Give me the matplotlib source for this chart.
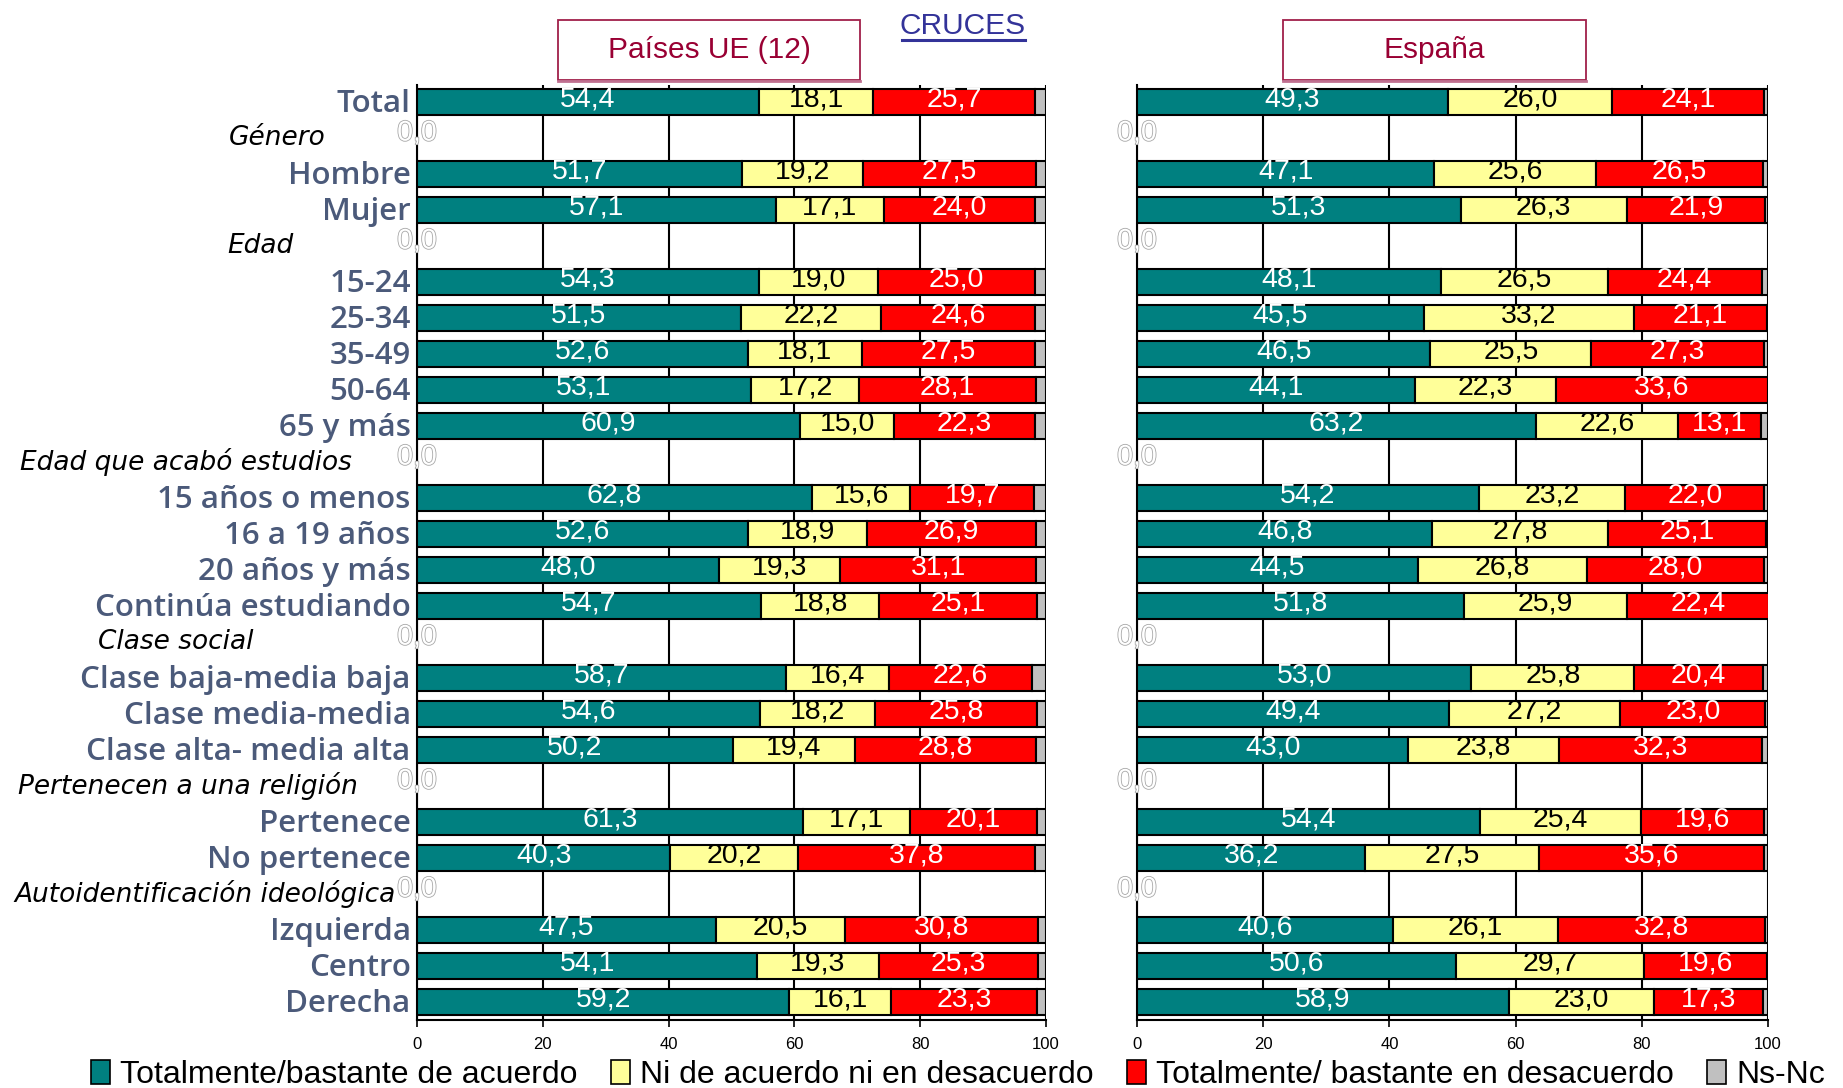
import numpy as np
import matplotlib
matplotlib.use("Agg")
import matplotlib.pyplot as plt
from matplotlib.patches import Patch, Rectangle
from matplotlib.lines import Line2D
import matplotlib.patheffects as pe

# ---------------- data ----------------
rows = ["Total", "Género", "Hombre", "Mujer", "Edad", "15-24", "25-34", "35-49",
        "50-64", "65 y más", "Edad que acabó estudios", "15 años o menos",
        "16 a 19 años", "20 años y más", "Continúa estudiando", "Clase social",
        "Clase baja-media baja", "Clase media-media", "Clase alta- media alta",
        "Pertenecen a una religión", "Pertenece", "No pertenece",
        "Autoidentificación ideológica", "Izquierda", "Centro", "Derecha"]
headers = ["Género", "Edad", "Edad que acabó estudios", "Clase social",
           "Pertenecen a una religión", "Autoidentificación ideológica"]

series_names = ["Totalmente/bastante de acuerdo", "Ni de acuerdo ni en desacuerdo",
                "Totalmente/ bastante en desacuerdo", "Ns-Nc"]

# Países UE (12) -- item rows only (headers excluded), in order
ue_acuerdo = [54.4, 51.7, 57.1, 54.3, 51.5, 52.6, 53.1, 60.9, 62.8, 52.6, 48.0, 54.7,
              58.7, 54.6, 50.2, 61.3, 40.3, 47.5, 54.1, 59.2]
ue_ni = [18.1, 19.2, 17.1, 19.0, 22.2, 18.1, 17.2, 15.0, 15.6, 18.9, 19.3, 18.8,
         16.4, 18.2, 19.4, 17.1, 20.2, 20.5, 19.3, 16.1]
ue_desacuerdo = [25.7, 27.5, 24.0, 25.0, 24.6, 27.5, 28.1, 22.3, 19.7, 26.9, 31.1, 25.1,
                 22.6, 25.8, 28.8, 20.1, 37.8, 30.8, 25.3, 23.3]
ue_nsnc = [1.8, 1.6, 1.8, 1.7, 1.7, 1.8, 1.6, 1.8, 1.9, 1.6, 1.6, 1.4,
           2.3, 1.4, 1.6, 1.5, 1.7, 1.2, 1.3, 1.4]

# España
es_acuerdo = [49.3, 47.1, 51.3, 48.1, 45.5, 46.5, 44.1, 63.2, 54.2, 46.8, 44.5, 51.8,
              53.0, 49.4, 43.0, 54.4, 36.2, 40.6, 50.6, 58.9]
es_ni = [26.0, 25.6, 26.3, 26.5, 33.2, 25.5, 22.3, 22.6, 23.2, 27.8, 26.8, 25.9,
         25.8, 27.2, 23.8, 25.4, 27.5, 26.1, 29.7, 23.0]
es_desacuerdo = [24.1, 26.5, 21.9, 24.4, 21.1, 27.3, 33.6, 13.1, 22.0, 25.1, 28.0, 22.4,
                 20.4, 23.0, 32.3, 19.6, 35.6, 32.8, 19.6, 17.3]
es_nsnc = [0.6, 0.8, 0.5, 1.0, 0.2, 0.7, 0.0, 1.1, 0.6, 0.3, 0.7, 0.0,
           0.8, 0.4, 0.9, 0.6, 0.7, 0.5, 0.1, 0.8]

xticks = [0, 20, 40, 60, 80, 100]
panel_titles = ["Países UE (12)", "España"]

# ---------------- style ----------------
W, H = 1843, 1088
colors = ["#008080", "#FFFF99", "#FF0000", "#C0C0C0"]
label_colors = ["white", "black", "white", None]
cat_color = "#4B5A7A"
num_font = ["Liberation Sans", "DejaVu Sans"]
cat_font = ["Open Sans", "DejaVu Sans"]
hdr_font = ["DejaVu Sans"]
header_left_px = {"Género": 229, "Edad": 227, "Edad que acabó estudios": 20,
                  "Clase social": 98, "Pertenecen a una religión": 18,
                  "Autoidentificación ideológica": 14}

fig = plt.figure(figsize=(W / 100, H / 100), dpi=100)


def expand(vals):
    out = []
    it = iter(vals)
    for r in rows:
        out.append(np.nan if r in headers else next(it))
    return np.array(out, dtype=float)


def fmt(v):
    return f"{v:.1f}".replace(".", ",")


def draw_panel(ax, data):
    y = np.arange(len(rows))
    left = np.zeros(len(rows))
    for k, vals in enumerate(data):
        v = expand(vals)
        ax.barh(y, v, left=left, height=0.7, color=colors[k], edgecolor="black",
                linewidth=1.5, zorder=3)
        if label_colors[k] is not None:
            for yi, (l, w) in enumerate(zip(left, v)):
                if np.isnan(w):
                    continue
                ax.text(l + w / 2, yi - 0.08, fmt(w), ha="center", va="center",
                        color=label_colors[k], fontsize=20.5, family=num_font, zorder=4)
        left = left + np.nan_to_num(v)
    # header rows hollow "0,0" labels
    for yi, r in enumerate(rows):
        if r in headers:
            t = ax.text(0, yi - 0.12, fmt(0.0), ha="center", va="center", color="white",
                        fontsize=20.5, family=num_font, zorder=5, clip_on=False)
            t.set_path_effects([pe.Stroke(linewidth=1.2, foreground="#A8A8A8"), pe.Normal()])
    ax.set_xlim(0, 100)
    ax.set_ylim(len(rows) - 0.5, -0.47)
    ax.set_xticks(xticks)
    ax.set_xticklabels([str(t) for t in xticks], fontsize=12, family=num_font)
    ax.tick_params(axis="x", length=5, width=1.2, pad=7, color="black")
    ax.set_yticks([])
    ax.grid(axis="x", color="black", linewidth=1.5, zorder=0)
    ax.set_axisbelow(True)
    for s in ["top", "right"]:
        ax.spines[s].set_visible(False)
    ax.spines["left"].set_linewidth(1.5)
    ax.spines["bottom"].set_linewidth(1.5)


bottom = (H - 1020) / H
height = 935 / H
axL = fig.add_axes([417 / W, bottom, 629 / W, height])
axR = fig.add_axes([1137 / W, bottom, 631 / W, height])
draw_panel(axL, [ue_acuerdo, ue_ni, ue_desacuerdo, ue_nsnc])
draw_panel(axR, [es_acuerdo, es_ni, es_desacuerdo, es_nsnc])

# category labels
for yi, r in enumerate(rows):
    if r in headers:
        xp = header_left_px[r] / W
        yp = axL.transData.transform((0, yi))
        yfig = fig.transFigure.inverted().transform(yp)[1]
        fig.text(xp, yfig, r, ha="left", va="center", fontsize=19, style="italic",
                 family=hdr_font, color="black")
    else:
        axL.text(-1.0, yi + 0.05, r, ha="right", va="center", fontsize=22.5,
                 family=cat_font, fontweight="semibold", color=cat_color,
                 transform=axL.transData, clip_on=False)

# panel title boxes
for (x0, w), title in zip([(558, 302), (1283, 303)], panel_titles):
    rect = Rectangle((x0 / W, 1 - 80 / H), w / W, 60 / H, transform=fig.transFigure,
                     facecolor="white", edgecolor="#A0204A", linewidth=1.3)
    fig.add_artist(rect)
    fig.add_artist(Line2D([x0 / W, (x0 + w) / W], [1 - 81 / H, 1 - 81 / H],
                          transform=fig.transFigure, color="#C07090", linewidth=2))
    fig.text((x0 + w / 2) / W, 1 - 50 / H, title, ha="center", va="center",
             fontsize=21.5, family=num_font, color="#990033")

# CRUCES underlined
fig.text(963 / W, 1 - 26 / H, "CRUCES", ha="center", va="center", fontsize=21.5,
         family=num_font, color="#333399")
fig.add_artist(Line2D([902 / W, 1025 / W], [1 - 40 / H, 1 - 40 / H],
                      transform=fig.transFigure, color="#333399", linewidth=2.2))

# legend
handles = [Patch(facecolor=c, edgecolor="black", linewidth=1.2) for c in colors]
fig.legend(handles, series_names, loc="center", bbox_to_anchor=(958 / W, 1 - 1075 / H),
           ncol=4, frameon=False, handlelength=0.6, handleheight=0.8,
           handletextpad=0.3, columnspacing=1.05, prop={"family": num_font, "size": 23})

fig.savefig("out.png", dpi=100)
